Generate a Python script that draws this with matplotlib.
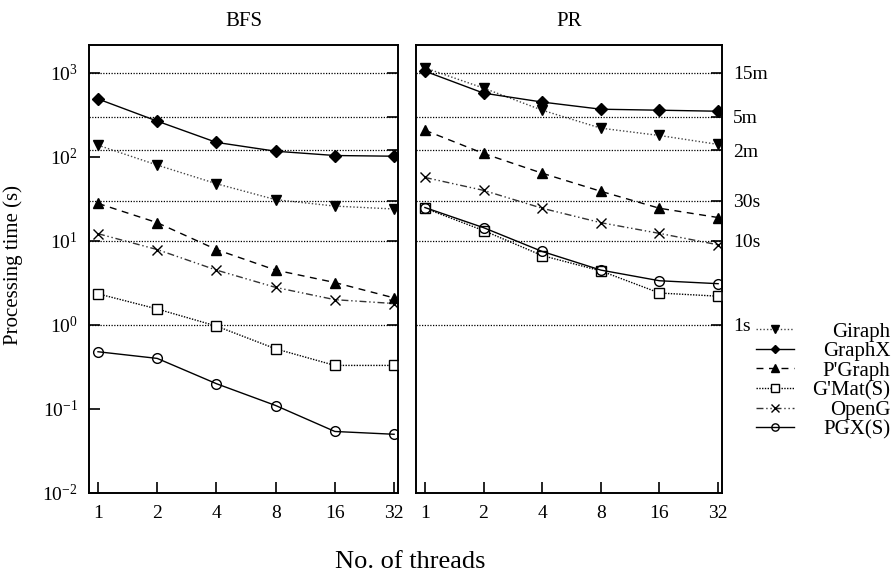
import numpy as np
import matplotlib
matplotlib.use("Agg")
import matplotlib.pyplot as plt
from matplotlib.ticker import FixedLocator, FixedFormatter, NullLocator

plt.rcParams['font.family'] = ['Liberation Serif', 'DejaVu Serif']
plt.rcParams['mathtext.default'] = 'regular'

# number of threads
threads = [1, 2, 4, 8, 16, 32]

# BFS processing time in seconds
bfs_giraph = [138, 80, 48, 31, 26, 24]
bfs_graphx = [490, 267, 149, 117, 104, 102]
bfs_pgraph = [28, 16.5, 7.9, 4.5, 3.2, 2.1]
bfs_gmat = [2.35, 1.55, 0.97, 0.52, 0.33, 0.33]
bfs_openg = [12.2, 7.9, 4.5, 2.8, 2.0, 1.8]
bfs_pgx = [0.48, 0.40, 0.20, 0.11, 0.054, 0.05]

# PR processing time in seconds
pr_giraph = [1150, 660, 360, 220, 180, 141]
pr_graphx = [1050, 575, 450, 370, 360, 350]
pr_pgraph = [208, 110, 64, 39, 24.5, 19]
pr_gmat = [24.5, 13.3, 6.7, 4.4, 2.4, 2.2]
pr_openg = [57, 40, 24.5, 16.5, 12.3, 9.0]
pr_pgx = [25, 14.4, 7.5, 4.5, 3.36, 3.1]

names = ['Giraph', 'GraphX', "P'Graph", "G'Mat(S)", 'OpenG', 'PGX(S)']

# reference lines (s) and their labels on the right
ref_vals = [1000, 300, 120, 30, 10, 1]
ref_labels = ['15m', '5m', '2m', '30s', '10s', '1s']

decades = [1e-2, 1e-1, 1, 10, 100, 1000]
decade_labels = ['10$^{-2}$', '10$^{-1}$', '10$^{0}$', '10$^{1}$', '10$^{2}$', '10$^{3}$']

styles = [
    dict(ls=(0, (1, 1.5)), marker='v', mfc='black', color='#444444'),
    dict(ls='-', marker='D', mfc='black', color='black', ms=6),
    dict(ls=(0, (5, 4)), marker='^', mfc='black', color='black'),
    dict(ls=(0, (1, 1)), marker='s', mfc='white', color='black'),
    dict(ls=(0, (5, 2, 1, 2, 1, 2)), marker='x', mfc='black', color='#333333'),
    dict(ls='-', marker='o', mfc='none', color='black'),
]

fig = plt.figure(figsize=(8.93, 5.75), dpi=100)
W, H = 893, 575
ax1 = fig.add_axes([89 / W, (H - 493) / H, (398 - 89) / W, (493 - 45) / H])
ax2 = fig.add_axes([416 / W, (H - 493) / H, (722 - 416) / W, (493 - 45) / H])

bfs = [bfs_giraph, bfs_graphx, bfs_pgraph, bfs_gmat, bfs_openg, bfs_pgx]
pr = [pr_giraph, pr_graphx, pr_pgraph, pr_gmat, pr_openg, pr_pgx]

for ax, data, title in [(ax1, bfs, 'BFS'), (ax2, pr, 'PR')]:
    ax.set_xscale('log', base=2)
    ax.set_yscale('log')
    for v in ref_vals:
        ax.axhline(v, color='black', ls=(0, (1, 1.2)), lw=0.9, zorder=1)
    for vals, name, st in zip(data, names, styles):
        st = dict(st)
        ms = st.pop('ms', 7)
        ax.plot(threads, vals, label=name, lw=1.0, ms=ms, mec='black', mew=1.0, zorder=3, **st)
    ax.set_xlim(0.9, 33.5)
    ax.set_ylim(0.01, 2150)
    ax.set_xticks(threads)
    ax.set_xticklabels([str(t) for t in threads])
    ax.xaxis.set_minor_locator(NullLocator())
    ax.tick_params(axis='x', direction='in', length=8, width=1.2, labelsize=14, pad=9, top=False)
    ax.set_title(title, fontsize=15, pad=14)
    for s in ax.spines.values():
        s.set_linewidth(1.2)

    # ticks at the reference lines on the right spine
    tw = ax.twinx()
    tw.set_yscale('log')
    tw.set_ylim(0.01, 2150)
    tw.yaxis.set_major_locator(FixedLocator(ref_vals))
    tw.yaxis.set_minor_locator(NullLocator())
    tw.tick_params(axis='y', direction='in', length=8, width=1.2, labelsize=14, pad=8)
    if ax is ax2:
        tw.yaxis.set_major_formatter(FixedFormatter(ref_labels))
    else:
        tw.set_yticklabels([])
    for s in tw.spines.values():
        s.set_linewidth(1.2)

ax1.yaxis.set_major_locator(FixedLocator(decades))
ax1.yaxis.set_major_formatter(FixedFormatter(decade_labels))
ax1.yaxis.set_minor_locator(NullLocator())
ax1.tick_params(axis='y', direction='in', length=8, width=1.2, labelsize=14, pad=8)
ax1.set_ylabel('Processing time (s)', fontsize=15)
ax1.yaxis.set_label_coords(-0.215, 0.51)

ax2.yaxis.set_major_locator(NullLocator())
ax2.yaxis.set_minor_locator(NullLocator())

fig.text(410 / W, 1 - 562 / H, 'No. of threads', ha='center', va='center', fontsize=19)

# legend outside on the right, text aligned right
handles, labels = ax2.get_legend_handles_labels()
leg = fig.legend(handles, labels, loc='upper right', bbox_to_anchor=(0.997, 1 - 322 / H),
                 frameon=False, fontsize=15, handlelength=1.8, handletextpad=0.9,
                 markerscale=0.75, labelspacing=0.0, borderpad=0, borderaxespad=0)
fig.canvas.draw()
renderer = fig.canvas.get_renderer()
widths = [t.get_window_extent(renderer).width for t in leg.get_texts()]
shift = max(widths)
for t, w in zip(leg.get_texts(), widths):
    t.set_position((shift - w, 0))

fig.savefig('out.png', dpi=100)
